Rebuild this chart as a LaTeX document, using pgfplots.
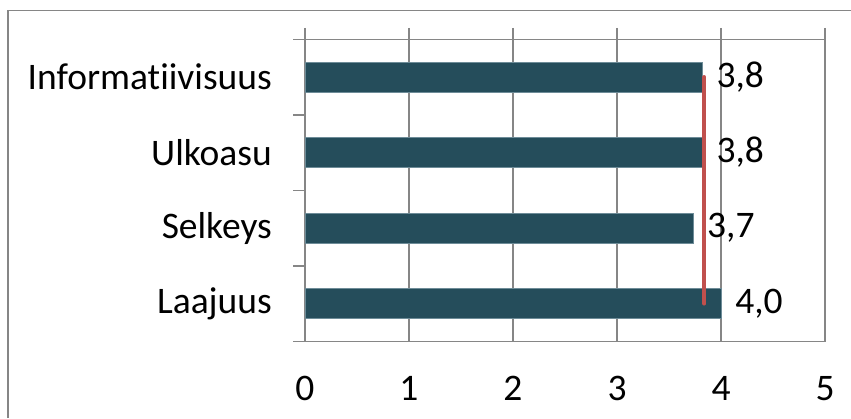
\documentclass[border=0pt]{standalone}
\usepackage{pgfplots}
\pgfplotsset{compat=1.18}
\usepackage{fontspec}
\setmainfont{Carlito}[Ligatures=NoCommon]
\definecolor{barteal}{RGB}{37,77,91}
\definecolor{baredge}{RGB}{110,140,152}
\definecolor{avgred}{RGB}{192,80,77}
\definecolor{rulegray}{RGB}{134,134,134}
\newcommand{\chartfont}{\fontsize{37.5}{45}\selectfont}
\begin{document}
\begin{tikzpicture}
\useasboundingbox (0pt,0pt) rectangle (851pt,418pt);
% outer chart frame (left and top edges)
\draw[rulegray, line width=1.6pt] (8pt,0pt) -- (8pt,407.3pt) -- (851pt,407.3pt);
\begin{axis}[
  at={(305pt,76.7pt)}, anchor=south west,
  scale only axis, width=520pt, height=302pt,
  xmin=0, xmax=5, ymin=-0.5, ymax=3.5,
  clip=false,
  axis line style={rulegray, line width=1.5pt},
  xmajorgrids, major grid style={rulegray, line width=1.5pt},
  tick align=outside, major tick length=11.5pt,
  tick style={rulegray, line width=1.5pt},
  xtick={0,1,2,3,4,5},
  xtick pos=right, xticklabel pos=left,
  xticklabel style={anchor=north, inner sep=0pt, yshift=-23pt},
  ytick={-0.5,0.5,1.5,2.5,3.5},
  yticklabels={},
  ytick pos=left,
  extra y ticks={0,1,2,3},
  extra y tick labels={Laajuus,Selkeys,Ulkoasu,Informatiivisuus},
  extra y tick style={tick style={draw=none},
    yticklabel style={anchor=east, inner sep=0pt, xshift=-21.5pt}},
  tick label style={font=\chartfont, text=black},
  /pgf/number format/assume math mode=true,
]
% average scores per criterion
\addplot[xbar, bar width=29.6pt, fill=barteal, draw=baredge, line width=0.6pt,
  point meta=x,
  nodes near coords={\pgfmathprintnumber[fixed,fixed zerofill,precision=1,use comma]{\pgfplotspointmeta}},
  nodes near coords align={horizontal},
  every node near coord/.append style={anchor=west, inner sep=0pt, xshift=14pt,
    font=\chartfont, text=black}]
  coordinates {(4.00,0) (3.73,1) (3.82,2) (3.82,3)};
% overall mean
\addplot[avgred, line width=4pt, line cap=round] coordinates {(3.84,0) (3.84,3)};
\end{axis}
\end{tikzpicture}
\end{document}
